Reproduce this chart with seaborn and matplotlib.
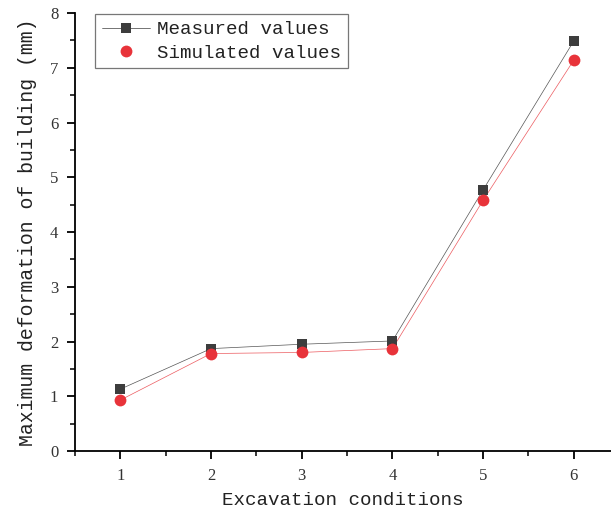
import matplotlib
matplotlib.use("Agg")
import matplotlib.pyplot as plt
from matplotlib.ticker import MultipleLocator
from matplotlib.lines import Line2D
import seaborn as sns
import pandas as pd

conditions = [1, 2, 3, 4, 5, 6]
measured = [1.13, 1.87, 1.95, 2.01, 4.77, 7.49]
simulated = [0.93, 1.78, 1.80, 1.87, 4.58, 7.14]
series_names = ["Measured values", "Simulated values"]
x_label = "Excavation conditions"
y_label = "Maximum deformation of building (mm)"

sns.set_style("ticks")
plt.rcParams["font.family"] = ["Liberation Mono", "DejaVu Sans"]

df = pd.DataFrame({
    "cond": conditions * 2,
    "value": measured + simulated,
    "series": [series_names[0]] * len(conditions) + [series_names[1]] * len(conditions),
})

fig = plt.figure(figsize=(6.11, 5.18), dpi=100)
ax = fig.add_axes([75 / 611, 67 / 518, 536 / 611, 438 / 518])

colors = {series_names[0]: "#3d3d3d", series_names[1]: "#e8333a"}
line_colors = {series_names[0]: "#555555", series_names[1]: "#ec5a5f"}
markers = {series_names[0]: "s", series_names[1]: "o"}
sizes = {series_names[0]: 7.5, series_names[1]: 8.5}
for name in series_names:
    sub = df[df["series"] == name]
    sns.lineplot(data=sub, x="cond", y="value", ax=ax, color=line_colors[name],
                 linewidth=0.5, legend=False)
    sns.scatterplot(data=sub, x="cond", y="value", ax=ax, color=colors[name],
                    marker=markers[name], s=sizes[name] ** 2, linewidth=0,
                    legend=False, zorder=3)

ax.set_xlim(0.5, 6.41)
ax.set_ylim(0, 8)
ax.xaxis.set_major_locator(MultipleLocator(1))
ax.xaxis.set_minor_locator(MultipleLocator(0.5))
ax.yaxis.set_major_locator(MultipleLocator(1))
ax.yaxis.set_minor_locator(MultipleLocator(0.5))
for s in ["top", "right"]:
    ax.spines[s].set_visible(False)
for s in ["left", "bottom"]:
    ax.spines[s].set_linewidth(1.3)
    ax.spines[s].set_color("black")
ax.tick_params(which="major", direction="out", length=6, width=1.3, color="black",
               labelsize=12, labelcolor="#333333", pad=6)
ax.tick_params(which="minor", direction="out", length=3.5, width=1.1, color="black")
for lab in ax.get_xticklabels() + ax.get_yticklabels():
    lab.set_fontfamily(["Liberation Serif", "DejaVu Serif"])

ax.set_xlabel(x_label, fontsize=13.8, color="#222222", labelpad=6)
ax.set_ylabel(y_label, fontsize=14.3, color="#222222", labelpad=9)

handles = [
    Line2D([], [], color=colors[series_names[0]], marker="s", markersize=7.5,
           markeredgewidth=0, linewidth=0.5),
    Line2D([], [], color=colors[series_names[1]], marker="o", markersize=8.5,
           markeredgewidth=0, linestyle="none"),
]
leg = ax.legend(handles, series_names, loc="upper left", bbox_to_anchor=(0.037, 0.997),
                borderaxespad=0, fontsize=13.8, frameon=True, fancybox=False,
                edgecolor="#555555", handlelength=2.55, handletextpad=0.35,
                borderpad=0.35, labelspacing=0.3)
leg.get_frame().set_linewidth(0.9)
for t in leg.get_texts():
    t.set_color("#222222")

fig.savefig("out.png", dpi=100)
